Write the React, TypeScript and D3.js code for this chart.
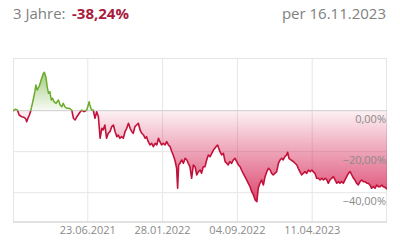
import React from "react";
import * as d3 from "d3";

const startDate = "2020-11-16";
const endDate = "2023-11-16";
const xTickDates = ["2021-06-23", "2022-01-28", "2022-09-04", "2023-04-11"];
const yTickValues = [0, -20, -40];
const yDomain = [-54.3, 25.46];
const headerLabel = "3 Jahre:";
const headerValue = "-38,24%";
const headerDate = "per 16.11.2023";

// days since start date
const days = [0, 6, 13, 18, 25, 32, 38, 40, 44, 48, 52, 59, 64, 67, 71, 77, 84, 89, 92, 97, 100, 104, 108, 112, 116, 120, 126, 133, 138, 143, 147, 152, 157, 165, 172, 177, 182, 187, 194, 201, 208, 216, 223, 225, 230, 235, 240, 245, 250, 255, 260, 264, 269, 274, 279, 284, 289, 294, 299, 304, 308, 313, 318, 323, 328, 333, 338, 343, 348, 352, 357, 362, 367, 372, 377, 382, 387, 391, 396, 401, 406, 411, 416, 421, 426, 430, 435, 440, 445, 450, 455, 460, 465, 469, 474, 479, 482, 485, 489, 494, 499, 504, 509, 513, 518, 523, 528, 533, 538, 543, 548, 552, 557, 562, 567, 572, 577, 582, 587, 591, 596, 599, 606, 611, 616, 621, 626, 630, 635, 640, 645, 650, 655, 660, 665, 669, 674, 679, 684, 689, 694, 699, 704, 709, 714, 718, 723, 728, 733, 738, 743, 748, 753, 757, 762, 767, 772, 777, 782, 787, 791, 796, 801, 804, 808, 814, 821, 826, 831, 835, 840, 845, 850, 855, 860, 865, 870, 875, 879, 884, 889, 894, 899, 904, 909, 914, 919, 923, 928, 933, 938, 943, 948, 953, 957, 962, 967, 972, 977, 982, 987, 992, 997, 1001, 1006, 1011, 1016, 1021, 1026, 1031, 1036, 1040, 1045, 1050, 1055, 1060, 1065, 1070, 1075, 1080, 1084, 1089, 1095];

// performance in percent
const perf = [-0.15, 0.68, 0.34, -2.1, -2.93, -3.22, -4.2, -5.37, -3.56, -2.1, 0, 5.22, 9.27, 12.54, 10.1, 12.05, 15.8, 18.24, 18.73, 15.8, 11.7, 8.49, 9.27, 5.22, 6.05, 4.39, 3.61, 5.22, 2.78, 1.95, 3.61, 1.95, 1.17, 1.17, 0.34, -3.71, -4.54, -2.93, -1.27, 0.34, -0.49, 0.34, 4.39, 2.78, 0.34, 0.34, -3.71, -0.49, -2.93, -13.46, -8.59, -9.41, -6.98, -13.46, -11.02, -10.24, -7.8, -6.98, -10.24, -12.68, -11.85, -13.46, -12.68, -13.46, -10.24, -8.59, -6.15, -8.59, -10.24, -11.02, -7.8, -6.98, -6.15, -9.41, -11.02, -11.85, -13.46, -12.68, -15.12, -16.73, -15.9, -17.56, -15.9, -16.73, -13.46, -15.12, -16.73, -15.9, -16.73, -15.12, -16.73, -17.56, -20.0, -21.61, -24.05, -27.95, -37.85, -26.49, -25.66, -24.05, -25.66, -23.22, -24.05, -25.66, -27.32, -32.98, -26.49, -27.32, -31.37, -29.76, -28.93, -30.54, -27.32, -27.32, -24.05, -21.61, -22.44, -20.78, -19.17, -18.34, -17.22, -16.73, -20.0, -21.61, -20.78, -24.88, -25.66, -26.49, -24.88, -25.66, -24.05, -23.22, -24.88, -26.49, -27.32, -28.93, -30.54, -32.2, -33.8, -35.41, -37.07, -39.51, -41.12, -43.56, -44.39, -37.85, -35.41, -33.8, -36.24, -32.2, -29.76, -28.1, -28.93, -30.54, -31.37, -30.54, -29.76, -25.66, -24.05, -23.22, -24.05, -22.44, -21.61, -20.29, -23.22, -24.05, -24.88, -25.66, -26.49, -28.1, -29.76, -31.37, -30.54, -29.76, -30.54, -28.93, -29.76, -28.93, -29.76, -30.54, -32.98, -32.98, -33.8, -32.98, -33.8, -32.98, -33.8, -35.41, -33.8, -32.98, -32.2, -33.8, -35.41, -34.63, -35.41, -34.63, -35.41, -33.8, -32.2, -30.54, -29.76, -31.37, -32.98, -33.8, -35.41, -36.24, -34.63, -33.8, -34.63, -34.63, -35.41, -35.41, -36.24, -37.85, -37.07, -37.85, -36.24, -37.07, -37.07, -36.24, -37.07, -37.37, -38.24];

const W = 400;
const H = 240;
const L = 13, R = 387, T = 58.5, B = 222;
const FONT = "'Open Sans', sans-serif";

export default function App() {
  const start = d3.utcParse("%Y-%m-%d")(startDate) as Date;
  const end = d3.utcParse("%Y-%m-%d")(endDate) as Date;
  const x = d3.scaleUtc().domain([start, end]).range([L, R]);
  const y = d3.scaleLinear().domain(yDomain).range([B, T]);
  const data = days.map((d, i) => ({ date: d3.utcDay.offset(start, d), v: perf[i] }));
  const line = d3.line<any>().x((d) => x(d.date)).y((d) => y(d.v));
  const area = d3.area<any>().x((d) => x(d.date)).y0(y(0)).y1((d) => y(d.v));
  const fmtDate = d3.utcFormat("%d.%m.%Y");
  const loc = d3.formatLocale({ decimal: ",", thousands: ".", grouping: [3], currency: ["", "€"] });
  const fmtPct = (v: number) => loc.format(".2f")(v) + "%";
  const xt = xTickDates.map((s) => d3.utcParse("%Y-%m-%d")(s) as Date);
  const y0 = y(0);
  const grid = "#e6e6e6";

  return (
    <svg width={W} height={H} style={{ position: "absolute", left: 0, top: 0, background: "#fff" }} fontFamily={FONT}>
      <defs>
        <linearGradient id="redFill" gradientUnits="userSpaceOnUse" x1="0" x2="0" y1={y0} y2={y(-45)}>
          <stop offset="0" stopColor="#d3164a" stopOpacity={0.06} />
          <stop offset="1" stopColor="#d3164a" stopOpacity={0.8} />
        </linearGradient>
        <linearGradient id="greenFill" gradientUnits="userSpaceOnUse" x1="0" x2="0" y1={y(19)} y2={y0}>
          <stop offset="0" stopColor="#74b03a" stopOpacity={0.65} />
          <stop offset="1" stopColor="#74b03a" stopOpacity={0.05} />
        </linearGradient>
        <clipPath id="above"><rect x={L} y={T} width={R - L} height={y0 - T} /></clipPath>
        <clipPath id="below"><rect x={L} y={y0} width={R - L} height={B - y0} /></clipPath>
      </defs>
      <text x={L} y={19} fontSize={15} fill="#808080">{headerLabel}</text>
      <text x={72} y={19} fontSize={15} fontWeight="bold" fill="#a81a3e">{headerValue}</text>
      <text x={386} y={19} fontSize={15} fill="#808080" textAnchor="end">{headerDate}</text>

      <rect x={L + 0.5} y={T} width={R - L - 1} height={B - T} fill="none" stroke={grid} strokeWidth={1} />
      {xt.map((d, i) => (
        <line key={"gx" + i} x1={x(d)} x2={x(d)} y1={T} y2={B} stroke={grid} />
      ))}
      {yTickValues.filter((v) => v !== 0).map((v) => (
        <line key={"gy" + v} x1={L} x2={R} y1={y(v)} y2={y(v)} stroke={grid} />
      ))}
      <line x1={L} x2={R} y1={B} y2={B} stroke="#cfcfcf" />

      <path d={area(data) || ""} fill="url(#redFill)" clipPath="url(#below)" />
      <path d={area(data) || ""} fill="url(#greenFill)" clipPath="url(#above)" />
      <line x1={L} x2={R} y1={y0} y2={y0} stroke="#cccccc" />
      <path d={line(data) || ""} fill="none" stroke="#c2123b" strokeWidth={1.6} clipPath="url(#below)" strokeLinejoin="round" />
      <path d={line(data) || ""} fill="none" stroke="#6aab2b" strokeWidth={1.5} clipPath="url(#above)" strokeLinejoin="round" />

      {yTickValues.map((v) => (
        <text key={"yl" + v} x={386} y={y(v) + 12.5} fontSize={11} fill="#8a8a8a" textAnchor="end">{fmtPct(v)}</text>
      ))}
      {xt.map((d, i) => (
        <text key={"xl" + i} x={x(d)} y={234} fontSize={11} fill="#8a8a8a" textAnchor="middle">{fmtDate(d)}</text>
      ))}
    </svg>
  );
}
